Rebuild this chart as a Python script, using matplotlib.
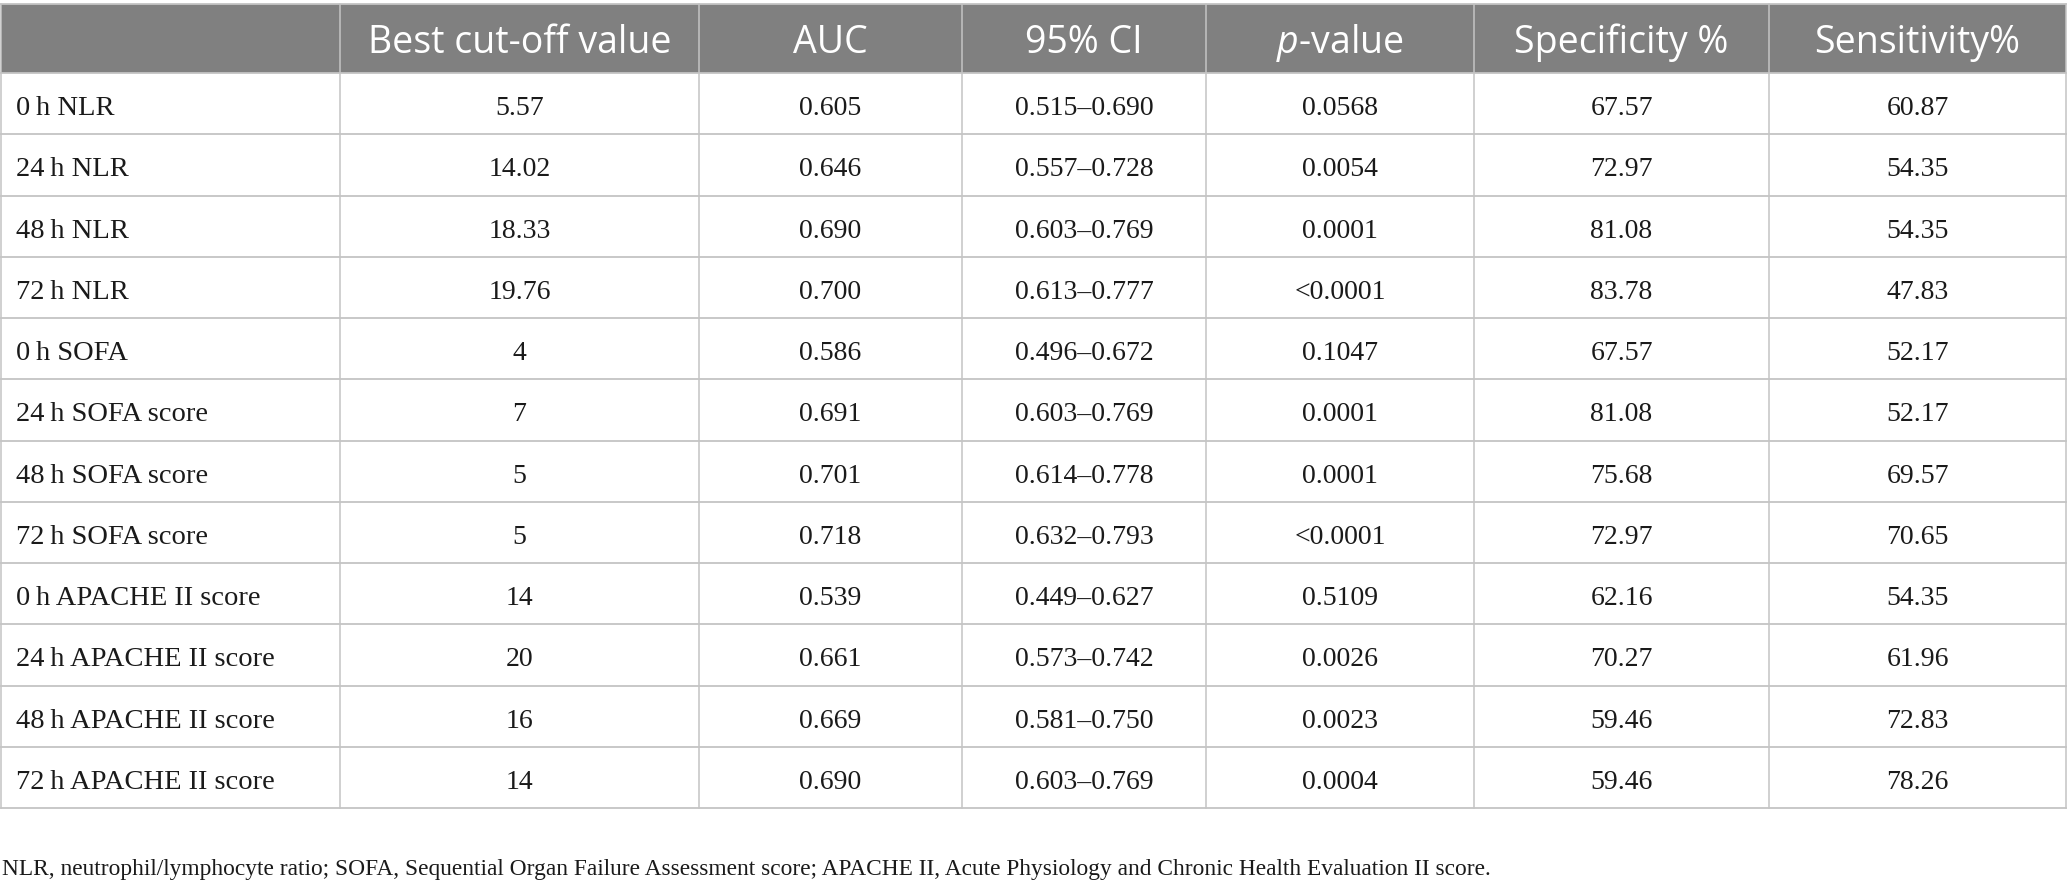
import matplotlib
matplotlib.use("Agg")
import matplotlib.pyplot as plt

plt.rcParams['mathtext.fontset'] = 'custom'
plt.rcParams['mathtext.rm'] = 'Open Sans'
plt.rcParams['mathtext.it'] = 'Open Sans:italic'

# table contents
headers = ["", "Best cut-off value", "AUC", "95% CI", r"$\it{p}$-value",
           "Specificity %", "Sensitivity%"]
labels = ["0\u2009h NLR", "24\u2009h NLR", "48\u2009h NLR", "72\u2009h NLR",
          "0\u2009h SOFA", "24\u2009h SOFA score", "48\u2009h SOFA score",
          "72\u2009h SOFA score", "0\u2009h APACHE II score",
          "24\u2009h APACHE II score", "48\u2009h APACHE II score",
          "72\u2009h APACHE II score"]
cutoff = ["5.57", "14.02", "18.33", "19.76", "4", "7", "5", "5", "14", "20", "16", "14"]
auc = ["0.605", "0.646", "0.690", "0.700", "0.586", "0.691", "0.701", "0.718",
       "0.539", "0.661", "0.669", "0.690"]
ci = ["0.515–0.690", "0.557–0.728", "0.603–0.769", "0.613–0.777", "0.496–0.672",
      "0.603–0.769", "0.614–0.778", "0.632–0.793", "0.449–0.627", "0.573–0.742",
      "0.581–0.750", "0.603–0.769"]
pval = ["0.0568", "0.0054", "0.0001", "<0.0001", "0.1047", "0.0001", "0.0001",
        "<0.0001", "0.5109", "0.0026", "0.0023", "0.0004"]
spec = ["67.57", "72.97", "81.08", "83.78", "67.57", "81.08", "75.68", "72.97",
        "62.16", "70.27", "59.46", "59.46"]
sens = ["60.87", "54.35", "54.35", "47.83", "52.17", "52.17", "69.57", "70.65",
        "54.35", "61.96", "72.83", "78.26"]
footnote = ("NLR, neutrophil/lymphocyte ratio; SOFA, Sequential Organ Failure "
            "Assessment score; APACHE II, Acute Physiology and Chronic Health "
            "Evaluation II score.")

# layout in pixels
W, H = 2067, 886
col_edges = [1, 340, 699, 962, 1206, 1474, 1769, 2066]
top, header_bottom, table_bottom = 4, 73, 808
header_color = "#808080"
line_color = "#c4c4c4"
text_color = "#1a1a1a"
serif = ["Liberation Serif", "DejaVu Serif"]

fig = plt.figure(figsize=(W / 100, H / 100), dpi=100)
ax = fig.add_axes([0, 0, 1, 1])
ax.set_xlim(0, W)
ax.set_ylim(H, 0)
ax.axis("off")

columns = [labels, cutoff, auc, ci, pval, spec, sens]
n = len(labels)
row_h = (table_bottom - header_bottom) / n

# header band
ax.fill_between([col_edges[0], col_edges[-1]], top, header_bottom,
                color=header_color, lw=0)
for j, h in enumerate(headers):
    xc = (col_edges[j] + col_edges[j + 1]) / 2
    ax.text(xc, (top + header_bottom) / 2 + 4, h, ha="center", va="center",
            color="white", fontsize=27, family="Open Sans")

# body
for i in range(n):
    yc = header_bottom + (i + 0.5) * row_h + 5
    for j, col in enumerate(columns):
        if j == 0:
            ax.text(col_edges[0] + 15, yc, col[i], ha="left", va="center",
                    fontsize=20.5, family=serif, color=text_color)
        else:
            xc = (col_edges[j] + col_edges[j + 1]) / 2
            ax.text(xc, yc, col[i], ha="center", va="center",
                    fontsize=20, family=serif, color=text_color)

# grid lines
for i in range(n + 1):
    y = header_bottom + i * row_h
    ax.plot([col_edges[0], col_edges[-1]], [y, y], color=line_color, lw=1.3)
ax.plot([col_edges[0], col_edges[-1]], [top, top], color=line_color, lw=1.3)
for x in col_edges:
    ax.plot([x, x], [top, table_bottom], color=line_color, lw=1.1)

ax.text(2, 869, footnote, ha="left", va="center", fontsize=16.8,
        family=serif, color=text_color)

fig.savefig("out.png", dpi=100)
